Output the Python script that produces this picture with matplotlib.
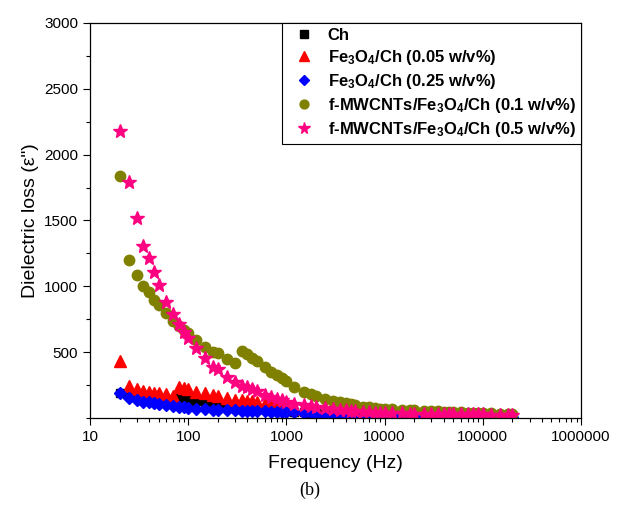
import matplotlib
matplotlib.use("Agg")
import matplotlib.pyplot as plt
from matplotlib.ticker import MultipleLocator, FuncFormatter, LogLocator

plt.rcParams['font.family'] = ['Liberation Sans', 'DejaVu Sans']
plt.rcParams['mathtext.fontset'] = 'custom'
plt.rcParams['mathtext.rm'] = 'Liberation Sans:bold'
plt.rcParams['mathtext.it'] = 'Liberation Sans:bold'
plt.rcParams['mathtext.bf'] = 'Liberation Sans:bold'

# frequency points (Hz), shared by all samples
freq = [20, 25, 30, 35, 40, 45, 50, 60, 70, 80, 90,
        100, 120, 150, 180, 200, 250, 300, 350, 400, 450, 500, 600, 700, 800, 900,
        1000, 1200, 1500, 1800, 2000, 2500, 3000, 3500, 4000, 4500, 5000, 6000, 7000, 8000, 9000,
        10000, 12000, 15000, 18000, 20000, 25000, 30000, 35000, 40000, 45000, 50000, 60000, 70000, 80000, 90000,
        100000, 120000, 150000, 180000, 200000]

ch = [190, 178, 170, 164, 159, 155, 150, 145, 140, 152, 148,
      140, 128, 118, 110, 106, 97, 90, 85, 81, 77, 73, 67, 62, 58, 55,
      52, 47, 42, 38, 35, 31, 28, 26, 24, 22, 21, 19, 18, 17, 16,
      15, 14, 13, 12, 12, 11, 11, 10, 10, 10, 10, 9, 9, 9, 9,
      8, 8, 8, 8, 8]

fe_005 = [433, 240, 218, 205, 198, 193, 187, 182, 167, 232, 228,
          218, 200, 187, 172, 167, 154, 140, 133, 128, 126, 124, 110, 102, 95, 88,
          82, 73, 65, 60, 56, 50, 45, 41, 38, 35, 33, 30, 28, 26, 25,
          24, 22, 21, 20, 19, 18, 17, 16, 16, 15, 15, 14, 14, 13, 13,
          13, 12, 12, 12, 11]

fe_025 = [192, 152, 137, 124, 118, 112, 106, 99, 91, 84, 81,
          73, 68, 66, 62, 61, 60, 57, 54, 53, 52, 51, 50, 49, 48, 47,
          46, 44, 40, 35, 32, 25, 22, 20, 19, 18, 17, 16, 15, 14, 14,
          13, 13, 12, 12, 11, 11, 10, 10, 10, 9, 9, 9, 9, 8, 8,
          8, 8, 7, 7, 7]

mw_01 = [1836, 1200, 1088, 1005, 954, 893, 858, 800, 740, 700, 670,
         643, 592, 541, 501, 490, 448, 415, 511, 486, 458, 430, 385, 350, 326, 303,
         283, 238, 200, 180, 168, 148, 132, 122, 112, 104, 98, 85, 80, 74, 70,
         70, 66, 63, 61, 60, 55, 52, 50, 48, 46, 45, 43, 41, 40, 39,
         38, 36, 34, 32, 30]

mw_05 = [2182, 1790, 1520, 1306, 1213, 1107, 1010, 883, 790, 715, 656,
         605, 529, 453, 390, 370, 314, 276, 245, 232, 220, 205, 178, 160, 145, 133,
         124, 110, 100, 90, 85, 73, 66, 61, 57, 53, 50, 46, 43, 40, 39,
         38, 36, 35, 34, 33, 32, 31, 30, 30, 29, 29, 28, 28, 27, 27,
         27, 26, 26, 25, 25]

labels = ['Ch',
          'Fe$_3$O$_4$/Ch (0.05 w/v%)',
          'Fe$_3$O$_4$/Ch (0.25 w/v%)',
          'f-MWCNTs/Fe$_3$O$_4$/Ch (0.1 w/v%)',
          'f-MWCNTs/Fe$_3$O$_4$/Ch (0.5 w/v%)']

fig = plt.figure(figsize=(6.19, 5.13), dpi=100)
ax = fig.add_axes([0.1454, 0.1852, 0.7932, 0.7700])

ax.plot(freq, ch, ls='none', marker='s', ms=6, color='#000000', label=labels[0])
ax.plot(freq, fe_005, ls='none', marker='^', ms=8, color='#FF0000', label=labels[1])
ax.plot(freq, fe_025, ls='none', marker='D', ms=6.5, color='#0000FF', label=labels[2])
ax.plot(freq, mw_01, ls='none', marker='o', ms=7.5, color='#808000', label=labels[3])
ax.plot(freq, mw_05, ls='none', marker='*', ms=10, color='#FF0080', label=labels[4])

ax.set_xscale('log')
ax.set_xlim(10, 1e6)
ax.set_ylim(0, 3000)
ax.set_yticks([500, 1000, 1500, 2000, 2500, 3000])
ax.yaxis.set_minor_locator(MultipleLocator(250))
ax.xaxis.set_major_locator(LogLocator(base=10, numticks=10))
ax.xaxis.set_minor_locator(LogLocator(base=10, subs=range(2, 10), numticks=20))
ax.xaxis.set_major_formatter(FuncFormatter(lambda v, _: f"{v:.0f}"))

ax.tick_params(which='both', direction='out', top=False, right=False, labelsize=11, width=0.8)
ax.tick_params(which='major', length=5)
ax.tick_params(which='minor', length=3)
for s in ax.spines.values():
    s.set_linewidth(0.9)

ax.set_xlabel('Frequency (Hz)', fontsize=14, labelpad=8)
ax.set_ylabel('Dielectric loss (ε")', fontsize=14, labelpad=4)

leg = ax.legend(loc='upper right', borderaxespad=0, fancybox=False, framealpha=1,
                edgecolor='black', borderpad=0.3, handlelength=2.0, handletextpad=0.45,
                labelspacing=0.3, markerscale=0.85,
                prop={'family': 'Liberation Sans', 'weight': 'bold', 'size': 12})
leg.get_frame().set_linewidth(0.8)

fig.text(0.5, 0.045, '(b)', ha='center', va='center', fontsize=13, family='Liberation Serif')

fig.savefig('out.png', dpi=100)
